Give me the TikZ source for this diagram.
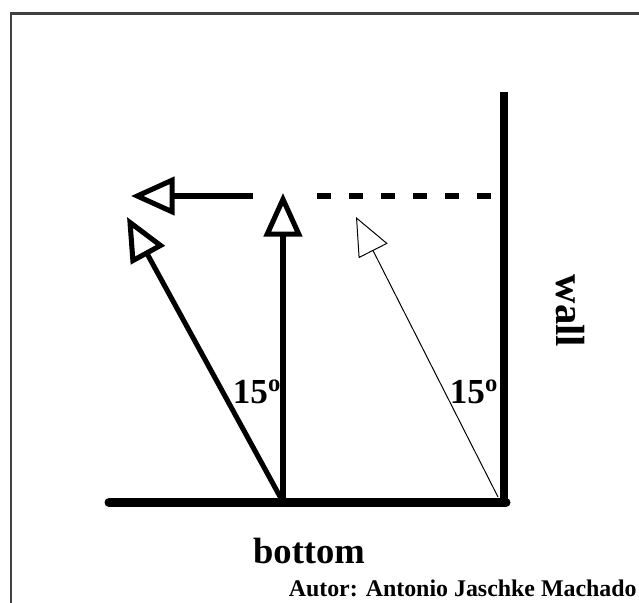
\documentclass[tikz,border=0pt]{standalone}
\usepackage{fontspec}
\setmainfont{Liberation Serif}
\usetikzlibrary{arrows.meta}
\tikzset{
  floor/.style={
    line width=6.4pt,
    line cap=round
  },
  wallline/.style={
    line width=5.7pt
  },
  vec/.style={
    line width=3.6pt,
    -{Triangle[open, length=31pt, width=27pt]}
  },
  ray/.style={
    line width=0.7pt,
    -{Triangle[open, length=27pt, width=23pt]}
  },
  level/.style={
    line width=3.6pt,
    dash pattern=on 9.6pt off 13.2pt
  },
  frame/.style={
    line width=2.1pt,
    draw=black!75
  },
}
\tikzset{
  angle/.style={
    font=\fontsize{25}{30}\selectfont\bfseries,
    inner sep=0pt
  },
  caption/.style={
    font=\fontsize{26}{30}\selectfont\bfseries,
    inner sep=0pt
  },
  autor/.style={
    font=\fontsize{17}{20}\selectfont\bfseries,
    inner sep=0pt,
    anchor=east
  },
}
\begin{document}
\begin{tikzpicture}[x=0.025cm, y=-0.025cm]
\useasboundingbox (0,0) rectangle (639,603);
\draw[frame] (11,620) -- (11,13.5) -- (660,13.5);
\coordinate (fl) at (109,502.5);
\coordinate (fr) at (506,502.5);
\coordinate (wb) at (504,506);
\coordinate (wt) at (504,92);
\coordinate (o) at (283,502);
\coordinate (up) at (283,193);
\coordinate (tilt) at (127,217);
\coordinate (hs) at (253,196);
\coordinate (ht) at (131,196);
\coordinate (ds) at (317,196);
\coordinate (de) at (504,196);
\coordinate (rs) at (498,497);
\coordinate (rt) at (356,217);
\draw[floor] (fl) -- (fr);
\draw[wallline] (wb) -- (wt);
\draw[vec] (o) -- (up);
\draw[vec] (o) -- (tilt);
\draw[vec] (hs) -- (ht);
\draw[level] (ds) -- (de);
\draw[ray] (rs) -- (rt);
\node[angle] (a1) at (257,392) {15\textsuperscript{o}};
\node[angle] (a2) at (474,392) {15\textsuperscript{o}};
\node[caption, rotate=-90, font=\fontsize{29}{30}\selectfont\bfseries] (wall) at (570,311) {wall};
\node[caption] (bottom) at (309,551) {bottom};
\node[autor] (name) at (637,588) {Autor: Antonio Jaschke Machado};
\end{tikzpicture}
\end{document}
